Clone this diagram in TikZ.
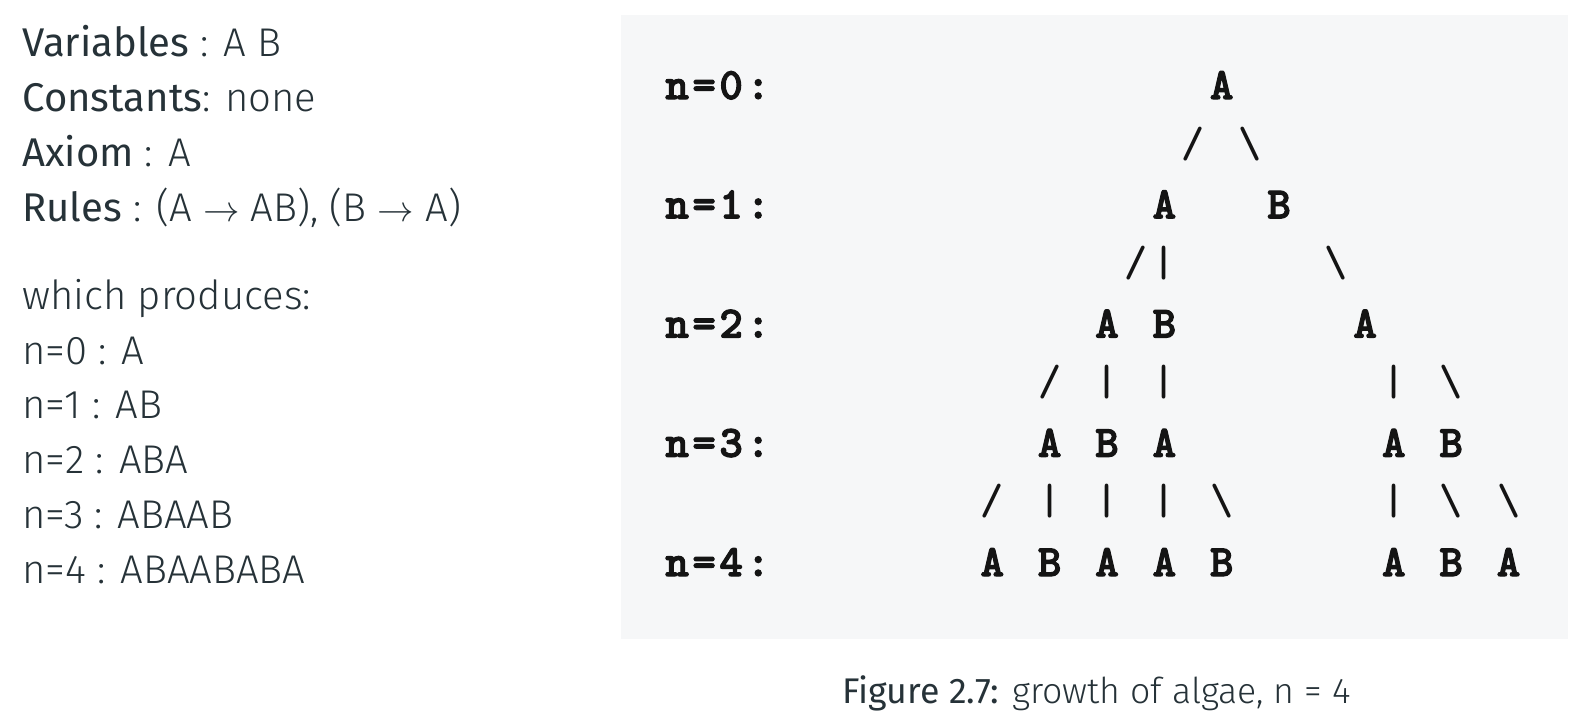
\documentclass[tikz,border=0pt]{standalone}
\usepackage{fontspec}
\setsansfont{Fira Sans}
\newfontfamily\firalight{Fira Sans Light}
\newfontfamily\asciibold{lmmonolt10-bold}[Extension=.otf,FakeBold=2.5]
\usetikzlibrary{positioning}
\definecolor{inkgray}{HTML}{263238}
\definecolor{panelgray}{HTML}{F6F7F8}
\tikzset{
textline/.style={anchor=base west,inner sep=0pt,text=inkgray,font=\sffamily\fontsize{22.8}{27}\selectfont}
}
\tikzset{
glyph/.style={anchor=base,inner sep=0pt,text=black!92,font=\ttfamily\bfseries\fontsize{25}{30}\selectfont}
}
\tikzset{
caption/.style={anchor=base west,inner sep=0pt,text=inkgray,font=\sffamily\fontsize{20.3}{25}\selectfont}
}

\begin{document}
\begin{tikzpicture}[x=0.02cm,y=-0.02cm,letter/.style={glyph,font=\asciibold\fontsize{25.5}{30}\selectfont},rowlabel/.style={letter,anchor=base west}]
\useasboundingbox (0,0) rectangle (1584,723);

%------------------------------------------------------------------------------------------------------------%
\node[textline] (vars) at (22,57) {Variables\firalight{} : A B};
\node[textline] (consts) at (22,111.5) {Constants\firalight: none};
\node[textline] (axiom) at (22,166) {Axiom\firalight{} : A};
\node[textline] (rules) at (22,221) {Rules\firalight{} : (A $\rightarrow$ AB), (B $\rightarrow$ A)};
\node[textline,font=\firalight\fontsize{22.8}{27}\selectfont] (produces) at (22,309) {which produces:};
\foreach \n/\s [count=\k from 0] in {0/A,1/AB,2/ABA,3/ABAAB,4/ABAABABA}
{
\node[textline,font=\firalight\fontsize{22.8}{27}\selectfont] (gen\n) at (22,{364+54.75*\k}) {n=\n{} : \s};
}

%------------------------------------------------------------------------------------------------------------%
\fill[panelgray] (621,15) rectangle (1568,639);

\foreach \r in {0,1,...,4}
{
\node[rowlabel] (lbl\r) at (665,{99+119.25*\r}) {n\kern2pt=\kern2pt\r\kern2pt:};
}

\foreach \r/\c/\t in {0/19/A,1/17/A,1/21/B,2/15/A,2/17/B,2/24/A,3/13/A,3/15/B,3/17/A,3/25/A,3/27/B,4/11/A,4/13/B,4/15/A,4/17/A,4/19/B,4/25/A,4/27/B,4/29/A}
{
\node[letter] (n\r-\c) at ({676.8+28.68*\c},{99+119.25*\r}) {\t};
}

\foreach \r/\c/\t in {1/18/{/},1/20/\textbackslash,2/16/{/},2/17/|,2/23/\textbackslash,3/13/{/},3/15/|,3/17/|,3/25/|,3/27/\textbackslash,4/11/{/},4/13/|,4/15/|,4/17/|,4/19/\textbackslash,4/25/|,4/27/\textbackslash,4/29/\textbackslash}
{
\node[glyph] (s\r-\c) at ({676.8+28.68*\c},{37.75+119.25*\r}) {\t};
}

%------------------------------------------------------------------------------------------------------------%
\node[caption] (figcap) at (842,703) {Figure 2.7:\firalight{} growth of algae, n = 4};

\end{tikzpicture}
\end{document}
